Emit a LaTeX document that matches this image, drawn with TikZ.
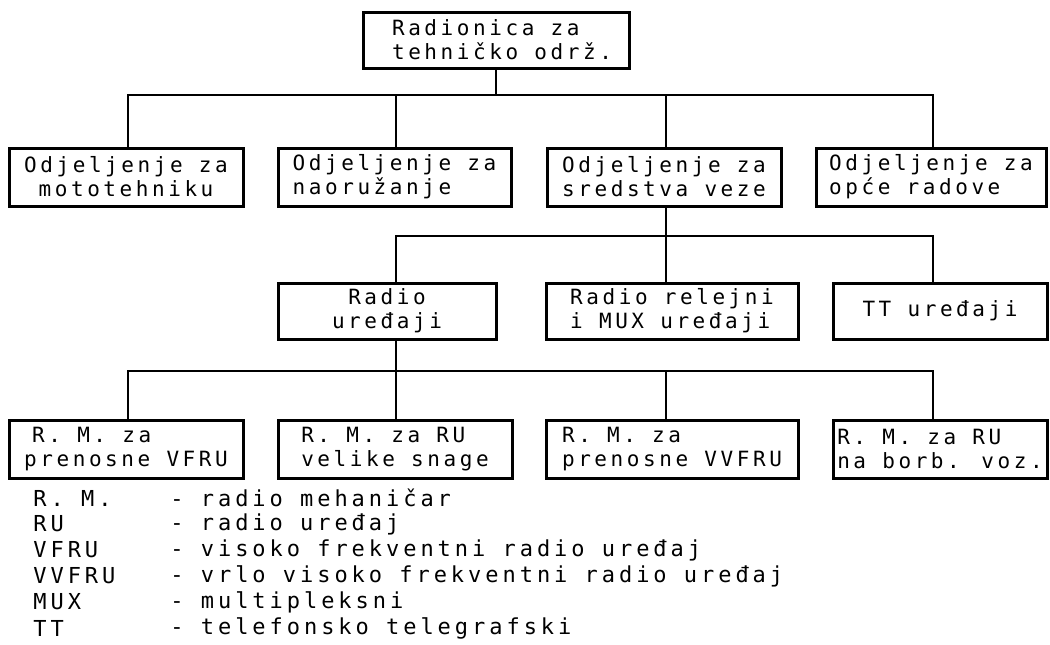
\documentclass[tikz,border=0pt]{standalone}
\usepackage{fontspec}
\newfontfamily\plotfont[LetterSpace=17]{DejaVu Sans Mono}
\newfontfamily\keyfont[LetterSpace=18]{DejaVu Sans Mono}
\begin{document}
\begin{tikzpicture}[x=0.5pt,y=-0.5pt,
    box/.style={draw,line width=1.5pt,inner xsep=1pt,inner ysep=1pt,
      font=\plotfont\fontsize{10.5}{12}\selectfont,align=left},
    link/.style={line width=0.9pt},
    key/.style={anchor=west,inner sep=0pt,font=\keyfont\fontsize{11}{12}\selectfont}]
  \useasboundingbox (0,0) rectangle (1050,644);
  % columns of the drops and heights of the buses
  \coordinate (c1) at (128,0);
  \coordinate (c2) at (396,0);
  \coordinate (c3) at (666,0);
  \coordinate (c4) at (933,0);
  \coordinate (bus1) at (0,95);
  \coordinate (bus2) at (0,236);
  \coordinate (bus3) at (0,371);

  \node[box,minimum width=133pt,minimum height=28pt] (top) at (496,40)
    {\hspace{6pt}Radionica za\\\hspace{6pt}tehničko održ.};

  \node[box,align=center,minimum width=117pt,minimum height=29pt] (oa) at (126,177)
    {Odjeljenje za\\mototehniku};
  \node[box,minimum width=116.5pt,minimum height=29pt] (ob) at (394.5,177)
    {Odjeljenje za\\naoružanje};
  \node[box,minimum width=117pt,minimum height=29pt] (oc) at (664,177)
    {Odjeljenje za\\sredstva veze};
  \node[box,minimum width=115pt,minimum height=29pt] (od) at (931,177)
    {Odjeljenje za\\opće radove};

  \node[box,align=center,minimum width=109pt,minimum height=28pt] (ra) at (387,311)
    {Radio\\uređaji};
  \node[box,minimum width=126pt,minimum height=28pt] (rr) at (672,311)
    {Radio relejni\\i MUX uređaji};
  \node[box,align=center,minimum width=107pt,minimum height=28pt] (tt) at (940,311)
    {TT uređaji};

  \node[box,minimum width=117pt,minimum height=29pt] (ma) at (126,449)
    {\hspace{4pt}R. M. za\\prenosne VFRU};
  \node[box,minimum width=117pt,minimum height=29pt] (mb) at (395,449)
    {R. M. za RU\\velike snage};
  \node[box,minimum width=126pt,minimum height=29pt] (mc) at (672,449)
    {R. M. za\\prenosne VVFRU};
  \node[box,minimum width=107pt,minimum height=29pt] (md) at (940,449)
    {R. M. za RU\\na borb. voz.};

  \foreach \n/\c in {oa/c1,ob/c2,oc/c3,od/c4}
    \draw[link] (top.south) |- (bus1 -| \c) -- (\n.north -| \c);
  \foreach \n/\c in {ra/c2,rr/c3,tt/c4}
    \draw[link] (oc.south -| c3) |- (bus2 -| \c) -- (\n.north -| \c);
  \foreach \n/\c in {ma/c1,mb/c2,mc/c3,md/c4}
    \draw[link] (ra.south -| c2) |- (bus3 -| \c) -- (\n.north -| \c);

  % legend
  \foreach \ab/\txt [count=\i from 0] in {R. M./radio mehaničar,RU/radio uređaj,
      VFRU/visoko frekventni radio uređaj,VVFRU/vrlo visoko frekventni radio uređaj,
      MUX/multipleksni,TT/telefonsko telegrafski} {
    \node[key] (ab\i) at (33,498+26*\i) {\ab};
    \node[key] (tx\i) at (170,498+26*\i) {- \txt};
  }
\end{tikzpicture}
\end{document}
